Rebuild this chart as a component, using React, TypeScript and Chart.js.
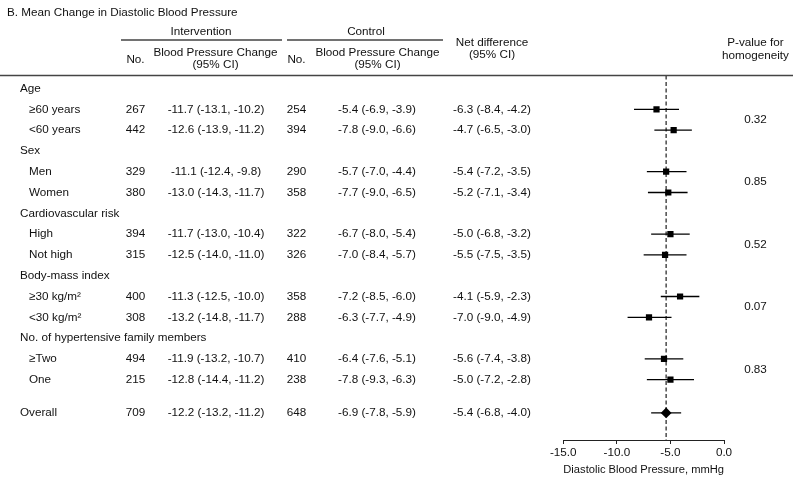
import React, { useEffect, useRef } from "react";
import { Chart, registerables } from "chart.js";
Chart.register(...registerables);

// ---------- data ----------
const title = "B. Mean Change in Diastolic Blood Pressure";
const groupLabels = ["Age", "Sex", "Cardiovascular risk", "Body-mass index", "No. of hypertensive family members"];
const groupRows = [0, 3, 6, 9, 12];
const subgroupLabels = ["≥60 years", "<60 years", "Men", "Women", "High", "Not high", "≥30 kg/m²", "<30 kg/m²", "≥Two", "One", "Overall"];
const subgroupRows = [1, 2, 4, 5, 7, 8, 10, 11, 13, 14, 15.6];
const intN = [267, 442, 329, 380, 394, 315, 400, 308, 494, 215, 709];
const intMean = [-11.7, -12.6, -11.1, -13.0, -11.7, -12.5, -11.3, -13.2, -11.9, -12.8, -12.2];
const intLow = [-13.1, -13.9, -12.4, -14.3, -13.0, -14.0, -12.5, -14.8, -13.2, -14.4, -13.2];
const intHigh = [-10.2, -11.2, -9.8, -11.7, -10.4, -11.0, -10.0, -11.7, -10.7, -11.2, -11.2];
const ctlN = [254, 394, 290, 358, 322, 326, 358, 288, 410, 238, 648];
const ctlMean = [-5.4, -7.8, -5.7, -7.7, -6.7, -7.0, -7.2, -6.3, -6.4, -7.8, -6.9];
const ctlLow = [-6.9, -9.0, -7.0, -9.0, -8.0, -8.4, -8.5, -7.7, -7.6, -9.3, -7.8];
const ctlHigh = [-3.9, -6.6, -4.4, -6.5, -5.4, -5.7, -6.0, -4.9, -5.1, -6.3, -5.9];
const netMean = [-6.3, -4.7, -5.4, -5.2, -5.0, -5.5, -4.1, -7.0, -5.6, -5.0, -5.4];
const netLow = [-8.4, -6.5, -7.2, -7.1, -6.8, -7.5, -5.9, -9.0, -7.4, -7.2, -6.8];
const netHigh = [-4.2, -3.0, -3.5, -3.4, -3.2, -3.5, -2.3, -4.9, -3.8, -2.8, -4.0];
const pValues = ["0.32", "0.85", "0.52", "0.07", "0.83"];
const overallNet = -5.4;
const xMin = -15;
const xMax = 0;
const xStep = 5;
const xTitle = "Diastolic Blood Pressure, mmHg";
const yTop = -0.625;
const yBottom = 16.9;

// ---------- styles ----------
const FONT_FAMILY = "'Liberation Sans', Arial, sans-serif";
const FONT_SIZE = 11.7;
const TEXT = "#111";
const RULE = "#444";

const fmt = (m: number, l: number, h: number) => `${m.toFixed(1)} (${l.toFixed(1)}, ${h.toFixed(1)})`;

const tablePlugin = {
  id: "tablePlugin",
  afterDraw(chart: any) {
    const ctx = chart.ctx as CanvasRenderingContext2D;
    const ys = chart.scales.y;
    const rowY = (r: number) => ys.getPixelForValue(r);
    ctx.save();
    ctx.fillStyle = TEXT;
    ctx.font = `${FONT_SIZE}px ${FONT_FAMILY}`;
    ctx.textBaseline = "middle";
    const t = (s: string, x: number, y: number, align: CanvasTextAlign = "center") => {
      ctx.textAlign = align;
      ctx.fillText(s, x, y);
    };
    // title & headers
    t(title, 7, 12.7, "left");
    t("Intervention", 201, 31.7);
    t("Control", 366, 31.7);
    t("No.", 135.5, 59.3);
    t("Blood Pressure Change", 215.5, 52.7);
    t("(95% CI)", 215.5, 64.3);
    t("No.", 296.5, 59.3);
    t("Blood Pressure Change", 377.5, 52.7);
    t("(95% CI)", 377.5, 64.3);
    t("Net difference", 492, 42.3);
    t("(95% CI)", 492, 55);
    t("P-value for", 755.5, 42.3);
    t("homogeneity", 755.5, 55.5);
    // rules
    ctx.strokeStyle = RULE;
    ctx.lineWidth = 1.3;
    ctx.beginPath();
    ctx.moveTo(121, 40); ctx.lineTo(282, 40);
    ctx.moveTo(287, 40); ctx.lineTo(443, 40);
    ctx.stroke();
    ctx.lineWidth = 1.5;
    ctx.beginPath();
    ctx.moveTo(0, 75.5); ctx.lineTo(793, 75.5);
    ctx.stroke();
    // group rows
    groupLabels.forEach((g, i) => t(g, 20, rowY(groupRows[i]), "left"));
    // subgroup rows
    subgroupLabels.forEach((s, i) => {
      const y = rowY(subgroupRows[i]);
      const isOverall = i === subgroupLabels.length - 1;
      t(s, isOverall ? 20 : 29, y, "left");
      t(String(intN[i]), 135.5, y);
      t(fmt(intMean[i], intLow[i], intHigh[i]), 216, y);
      t(String(ctlN[i]), 296.5, y);
      t(fmt(ctlMean[i], ctlLow[i], ctlHigh[i]), 377, y);
      t(fmt(netMean[i], netLow[i], netHigh[i]), 492, y);
    });
    // p-values between each pair of subgroup rows
    pValues.forEach((p, i) => {
      const r = (subgroupRows[i * 2] + subgroupRows[i * 2 + 1]) / 2;
      t(p, 755.5, rowY(r));
    });
    ctx.restore();
  },
};

export default function App() {
  const ref = useRef<HTMLCanvasElement | null>(null);
  useEffect(() => {
    if (!ref.current) return;
    const n = subgroupLabels.length;
    const whiskers = netMean.map((_, i) => ({
      type: "line" as const,
      data: [
        { x: netLow[i], y: subgroupRows[i] },
        { x: netHigh[i], y: subgroupRows[i] },
      ],
      borderColor: "#000",
      borderWidth: 1.3,
      pointRadius: 0,
      showLine: true,
      order: 2,
    }));
    const chart = new Chart(ref.current, {
      type: "scatter",
      data: {
        datasets: [
          {
            type: "scatter",
            data: netMean.slice(0, n - 1).map((v, i) => ({ x: v, y: subgroupRows[i] })),
            pointStyle: "rect",
            radius: 4.4,
            backgroundColor: "#000",
            borderColor: "#000",
            borderWidth: 0,
            order: 0,
          },
          {
            type: "scatter",
            data: [{ x: netMean[n - 1], y: subgroupRows[n - 1] }],
            pointStyle: "rectRot",
            radius: 5.4,
            backgroundColor: "#000",
            borderColor: "#000",
            borderWidth: 0,
            order: 0,
          },
          {
            type: "line",
            data: [
              { x: overallNet, y: yTop },
              { x: overallNet, y: yBottom },
            ],
            borderColor: "#4a4a4a",
            borderWidth: 1.5,
            borderDash: [4, 2.5],
            pointRadius: 0,
            showLine: true,
            order: 3,
          },
          ...whiskers,
        ] as any,
      },
      options: {
        responsive: false,
        animation: false,
        events: [],
        layout: { padding: { left: 563.3, right: 76, top: 75.5, bottom: 0 } },
        plugins: { legend: { display: false }, tooltip: { enabled: false }, title: { display: false } },
        scales: {
          x: {
            type: "linear",
            min: xMin,
            max: xMax,
            ticks: {
              stepSize: xStep,
              color: TEXT,
              font: { family: FONT_FAMILY, size: FONT_SIZE },
              padding: 2,
              maxRotation: 0,
              callback: (v: any) => Number(v).toFixed(1),
            },
            grid: { drawOnChartArea: false, drawTicks: true, tickLength: 4, color: "#222", lineWidth: 1 },
            border: { display: true, color: "#222", width: 1 },
            title: {
              display: true,
              text: xTitle,
              color: TEXT,
              font: { family: FONT_FAMILY, size: FONT_SIZE },
              padding: { top: 0, bottom: 6.7 },
            },
            afterFit: (scale: any) => {
              scale.height = 43;
            },
          },
          y: {
            type: "linear",
            min: yTop,
            max: yBottom,
            reverse: true,
            display: false,
          },
        },
      } as any,
      plugins: [tablePlugin],
    });
    return () => chart.destroy();
  }, []);
  return (
    <div style={{ position: "absolute", left: 0, top: 0, width: 800, height: 483, background: "#fff" }}>
      <canvas ref={ref} width={800} height={483} />
    </div>
  );
}
